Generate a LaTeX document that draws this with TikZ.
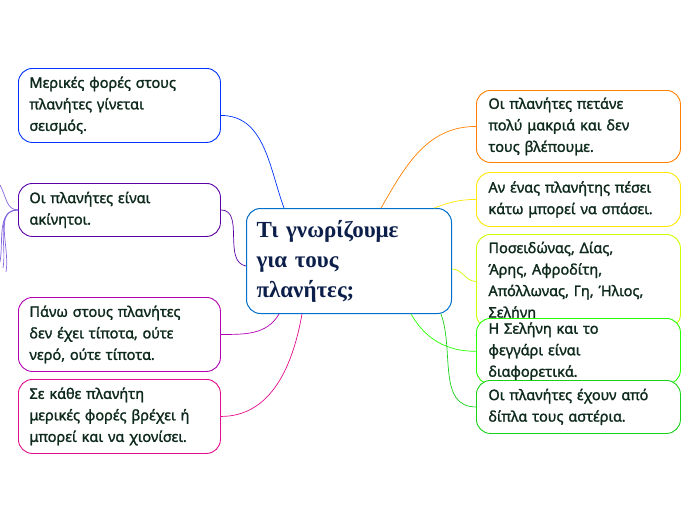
\documentclass[tikz,border=0pt]{standalone}
\usepackage{fontspec}
\setmainfont{Noto Sans}
\newfontfamily\ideafont{Noto Sans}[FakeBold=1.5]
\newfontfamily\titlefont{Liberation Serif}
\definecolor{txt}{HTML}{0E2A1C}
\definecolor{navy}{HTML}{0C1F4A}
\tikzset{
  idea/.style={draw, rounded corners=14pt, line width=0.9pt, fill=white, anchor=north west,
    text width=180pt, align=left, inner xsep=11pt, inner ysep=4pt,
    font=\ideafont\fontsize{14.5}{21.5}\selectfont, text=txt},
  link/.style={line width=0.7pt},
}
\begin{document}
\begin{tikzpicture}[x=1pt,y=-1pt]
    \useasboundingbox (0,0) rectangle (696,520);
    % centre topic
    \node[draw=blue!45!cyan!80!black, fill=white, rounded corners=14pt, line width=1pt,
      anchor=north west, minimum width=205pt, minimum height=105pt, text width=185pt,
      align=left, inner xsep=10pt, text=navy, font=\titlefont\bfseries\fontsize{23}{30}\selectfont]
      (topic) at (246,208) {Τι γνωρίζουμε\\για τους\\πλανήτες;};
    % left ideas
    \node[idea, draw=blue!80!cyan, minimum width=202pt, minimum height=74pt] (quake) at (18,68)
      {Μερικές φορές στους\\πλανήτες γίνεται\\σεισμός.};
    \node[idea, draw=violet!70!blue, minimum width=202pt, minimum height=53pt] (still) at (18,183)
      {Οι πλανήτες είναι\\ακίνητοι.};
    \node[idea, draw=violet!60!magenta, minimum width=202pt, minimum height=74pt] (empty) at (18,297)
      {Πάνω στους πλανήτες\\δεν έχει τίποτα, ούτε\\νερό, ούτε τίποτα.};
    \node[idea, draw=magenta!90!violet, minimum width=202pt, minimum height=74pt] (rain) at (18,379)
      {Σε κάθε πλανήτη\\μερικές φορές βρέχει ή\\μπορεί και να χιονίσει.};
    % right ideas
    \node[idea, draw=orange, minimum width=204pt, minimum height=72pt] (far) at (476,90)
      {Οι πλανήτες πετάνε\\πολύ μακριά και δεν\\τους βλέπουμε.};
    \node[idea, draw=yellow!90!orange, minimum width=204pt, minimum height=54pt] (fall) at (476,172)
      {Αν ένας πλανήτης πέσει\\κάτω μπορεί να σπάσει.};
    \node[idea, draw=lime!80!yellow, minimum width=204pt, minimum height=94pt] (names) at (476,234)
      {Ποσειδώνας, Δίας,\\Άρης, Αφροδίτη,\\Απόλλωνας, Γη, Ήλιος,\\Σελήνη};
    \node[idea, draw=green!80!lime, minimum width=204pt, minimum height=62pt] (moon) at (476,318)
      {Η Σελήνη και το\\φεγγάρι είναι\\διαφορετικά.};
    \node[idea, draw=green!80!black!90, minimum width=204pt, minimum height=53pt] (stars) at (476,380)
      {Οι πλανήτες έχουν από\\δίπλα τους αστέρια.};
    % free ends at the left edge
    \coordinate (e1) at (0,185);
    \coordinate (e2) at (0,262);
    \coordinate (e3) at (3,268);
    \coordinate (e4) at (6,272);
    % connectors
    \draw[link, blue!80!cyan] ([yshift=-10pt]quake.east) to[out=0, in=110] ([xshift=-65pt]topic.north);
    \draw[link, violet!70!blue] (still.east) to[out=0, in=170] ([yshift=-5pt]topic.west);
    \draw[link, violet!60!magenta] (empty.east) to[out=0, in=-120] ([xshift=-70pt]topic.south);
    \draw[link, magenta!90!violet] (rain.east) to[out=0, in=-100] ([xshift=-47pt]topic.south);
    \draw[link, orange] (far.west) to[out=180, in=60] ([xshift=32pt]topic.north);
    \draw[link, yellow!90!orange] (fall.west) to[out=180, in=20] ([xshift=85pt]topic.north);
    \draw[link, lime!80!yellow] (names.west) to[out=180, in=0] ([yshift=-8pt]topic.east);
    \draw[link, green!80!lime] (moon.west) to[out=180, in=-60] ([xshift=62pt]topic.south);
    \draw[link, green!80!black!90] (stars.west) to[out=180, in=-70] ([xshift=92pt]topic.south);
    \draw[link, violet!40!blue!60] (still.west) to[out=180, in=-60] (e1);
    \draw[link, violet!40!blue!60] (still.west) to[out=180, in=80] (e2);
    \draw[link, violet!40!blue!60] (still.west) to[out=180, in=80] (e3);
    \draw[link, violet!40!blue!60] (still.west) to[out=180, in=80] (e4);
\end{tikzpicture}
\end{document}
